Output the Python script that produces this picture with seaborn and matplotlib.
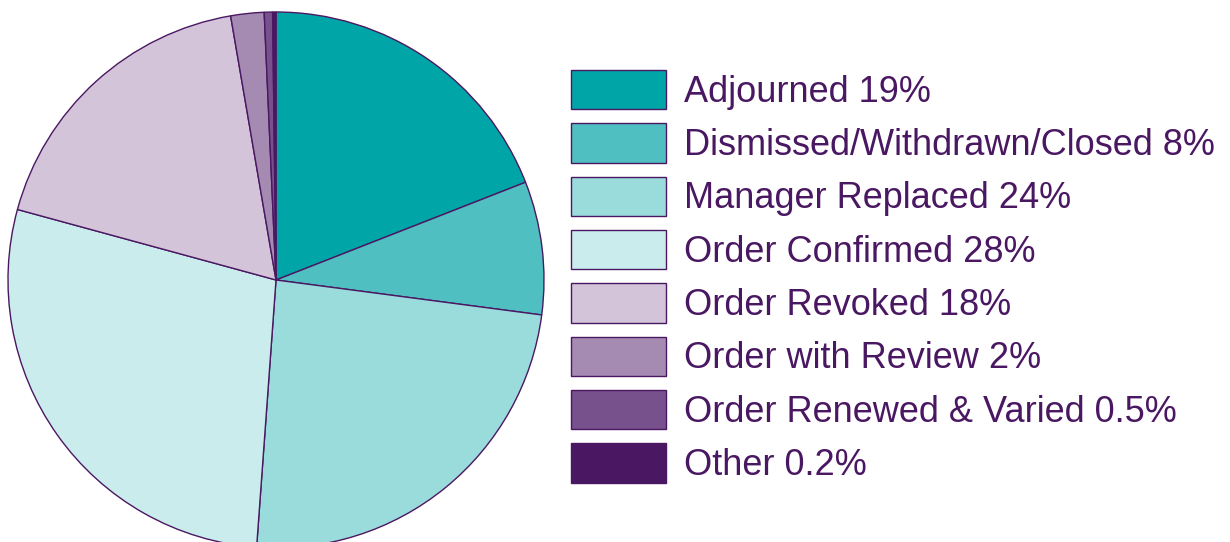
import matplotlib
matplotlib.use("Agg")
import matplotlib.pyplot as plt
import seaborn as sns

labels = [
    "Adjourned",
    "Dismissed/Withdrawn/Closed",
    "Manager Replaced",
    "Order Confirmed",
    "Order Revoked",
    "Order with Review",
    "Order Renewed & Varied",
    "Other",
]
shares = [19, 8, 24, 28, 18, 2, 0.5, 0.2]
share_text = ["19%", "8%", "24%", "28%", "18%", "2%", "0.5%", "0.2%"]
colors = ["#00A5A8", "#4FBFC1", "#9ADBDC", "#CBECEC",
          "#D3C4DA", "#A58BB2", "#77518B", "#4A1862"]

sns.set_theme(style="white")
plt.rcParams['font.family'] = ['Liberation Sans', 'DejaVu Sans']
text_color = "#4A1862"

fig = plt.figure(figsize=(12.3, 5.42), dpi=100)
# pie axes: centre (276,280) px, radius 268 px
ax = fig.add_axes([8 / 1230, (542 - 280 - 268) / 542, 536 / 1230, 536 / 542])
wedges, _ = ax.pie(shares, colors=colors, startangle=90, counterclock=False,
                   radius=1,
                   wedgeprops={'edgecolor': text_color, 'linewidth': 1.0})
ax.set_xlim(-1, 1)
ax.set_ylim(-1, 1)
ax.set_axis_off()

legend_labels = [f"{l} {s}" for l, s in zip(labels, share_text)]
leg = fig.legend(wedges, legend_labels, loc='upper left',
                 bbox_to_anchor=(571 / 1230, 1 - 70 / 542),
                 frameon=False, fontsize=26, borderpad=0, borderaxespad=0,
                 handlelength=2.62, handleheight=1.3, handletextpad=0.5,
                 labelspacing=0.375)
for t in leg.get_texts():
    t.set_color(text_color)

fig.savefig("out.png", dpi=100)
